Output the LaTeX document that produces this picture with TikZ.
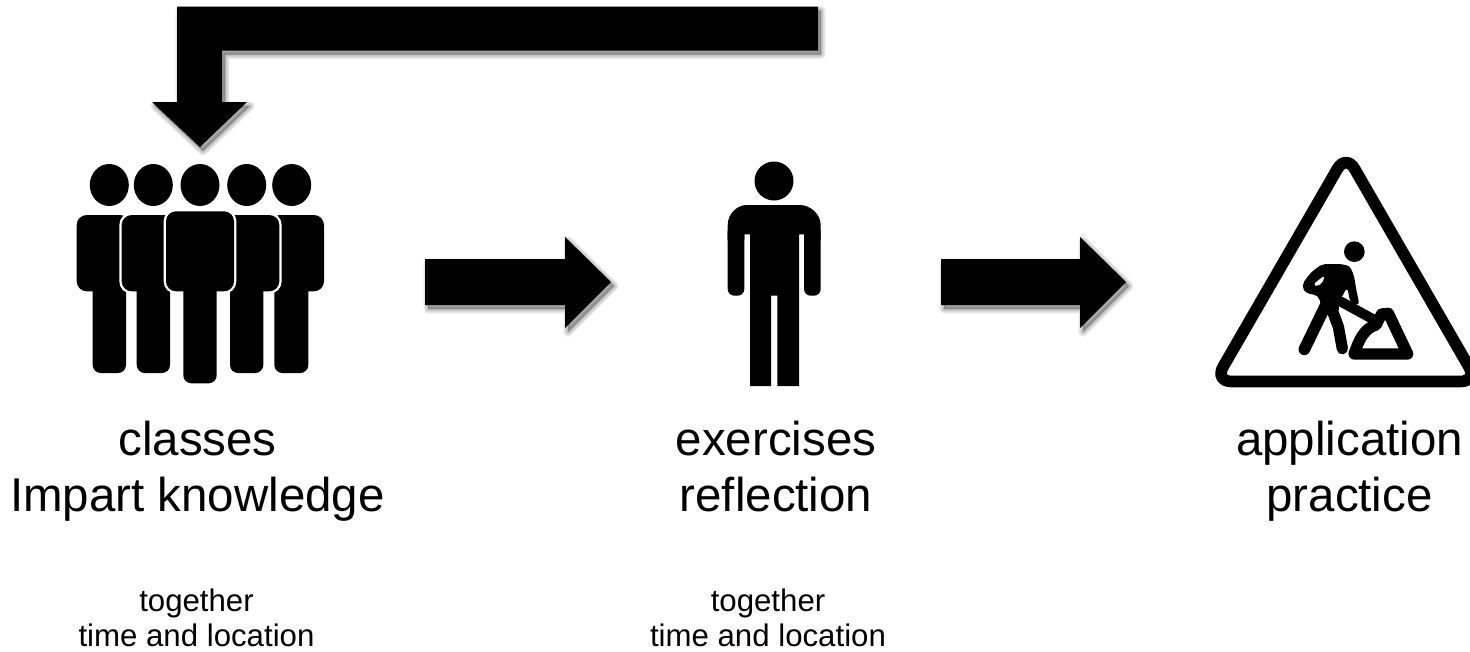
\documentclass[tikz,border=0pt]{standalone}
\usepackage{fontspec}
\setmainfont{Liberation Sans}
\newcommand{\crowdfig}[6]{% torso left, torso right, torso top, leg left, leg right, leg bottom
  \path[crowdhalo] (#1,#3) rectangle (#2,291.3);
  \path[crowdhalo] (#4,270) rectangle (#5,#6);
  \fill[rounded corners=7.5pt] (#1,#3) rectangle (#2,291.3);
  \fill[rounded corners=6pt] (#4,270) rectangle (#5,#6);
}
\begin{document}
\begin{tikzpicture}[x=0.75pt,y=-0.75pt,
  bigtext/.style={align=center,font=\fontsize{35.6}{42}\selectfont,inner sep=0pt,anchor=center},
  smalltext/.style={align=center,font=\fontsize{23.4}{26.25}\selectfont,inner sep=0pt,anchor=center},
  crowdhalo/.style={draw=white,line width=3.5pt,rounded corners=7.5pt},
  soft/.style={fill=black,draw=black,fill opacity=.06,draw opacity=.06,line join=round}]
\useasboundingbox (0,0) rectangle (1470,651);
\fill[white] (0,0) rectangle (1470,651);
% block arrows
\def\topshape{(177,6.5) -- (818,6.5) -- (818,50.5) -- (222,50.5) -- (222,102) -- (247,102) -- (200,147) -- (152,102) -- (177,102) -- cycle}
\def\arrowA{(425,259) -- (565,259) -- (565,237) -- (611,282) -- (565,328) -- (565,305) -- (425,305) -- cycle}
\def\arrowB{(941,259) -- (1080,259) -- (1080,237) -- (1126,282) -- (1080,328) -- (1080,305) -- (941,305) -- cycle}
\foreach \shp in {\topshape,\arrowA,\arrowB}{
  \begin{scope}[shift={(3,4)}]
    \foreach \w in {7,5.5,4,2.5,1}{ \path[soft,line width=\w pt] \shp; }
  \end{scope}
  \fill[black] \shp;
}
% crowd
\crowdfig{76.7}{130}{215}{92.7}{126}{373}
\crowdfig{270}{324}{215}{274.3}{308.3}{373}
\crowdfig{121.7}{176}{215}{136.7}{170}{373}
\crowdfig{225}{279.3}{215}{230}{263.3}{373}
\crowdfig{166}{234}{211.3}{183.3}{216.7}{383.3}
\foreach \hx in {109.3,153.3,200,246.7,291.7}{
  \fill (\hx,185) ellipse [x radius=19.5,y radius=21];
}
% single person
\fill (774,181) circle [radius=19.5];
\fill[rounded corners=5pt] (727.7,225) rectangle (744.3,295.7);
\fill[rounded corners=5pt] (804,225) rectangle (820.7,295.7);
\fill (727.7,240) -- (727.7,225) .. controls (727.7,214) and (737,205) .. (746.7,205) -- (800,205)
  .. controls (810,205) and (820.7,214) .. (820.7,225) -- (820.7,240) -- (804,240) -- (804,234.3) -- (799,234.3)
  -- (799,386) -- (777.3,386) -- (777.3,295.7) -- (771,295.7) -- (771,386) -- (750,386)
  -- (750,234.3) -- (744.3,234.3) -- (744.3,240) -- cycle;
% warning sign
\draw[line width=8.75pt,rounded corners=12.75pt] (1346,154) -- (1477.4,381.5) -- (1214.6,381.5) -- cycle;
\begin{scope}[shift={(1210,150)},x=.25pt,y=-.25pt]
  \fill (433,305) circle [radius=31];
  % torso and bent arm, with the gap between arm and chest
  \fill[even odd rule,rounded corners=4pt]
    (335,342) -- (400,342) .. controls (425,352) and (433,380) .. (437,410) -- (449,468)
    -- (420,458) -- (412,410) -- (388,455) -- (385,495) -- (340,495) -- (325,434) -- (290,432) -- (273,408) -- (300,370) -- cycle
    (347,373) -- (305,406) -- (332,410) -- cycle;
  % legs
  \draw[line width=8.75pt,line cap=round,line join=round] (345,470) -- (283,598);
  \draw[line width=8.5pt,line cap=round,line join=round] (368,485) -- (385,530) -- (397,596);
  % shovel arm
  \draw[line width=7.5pt,line cap=round] (393,455) -- (497,512);
  % heap
  \draw[line width=8.5pt,line join=round,line cap=round] (432,612) -- (593,612) -- (535,490) -- (515,492) -- (498,525) .. controls (462,535) and (447,570) .. (432,612);
\end{scope}
% labels
\node[bigtext] (classes) at (197.5,471.8) {\strut classes\\\strut Impart knowledge};
\node[bigtext] (exercises) at (776,471.8) {\strut exercises\\\strut reflection};
\node[bigtext] (application) at (1349.5,471.8) {\strut application\\\strut practice};
\node[smalltext] (togetherA) at (196.5,621.5) {\strut together\\\strut time and location};
\node[smalltext] (togetherB) at (768,621.5) {\strut together\\\strut time and location};
\end{tikzpicture}
\end{document}
